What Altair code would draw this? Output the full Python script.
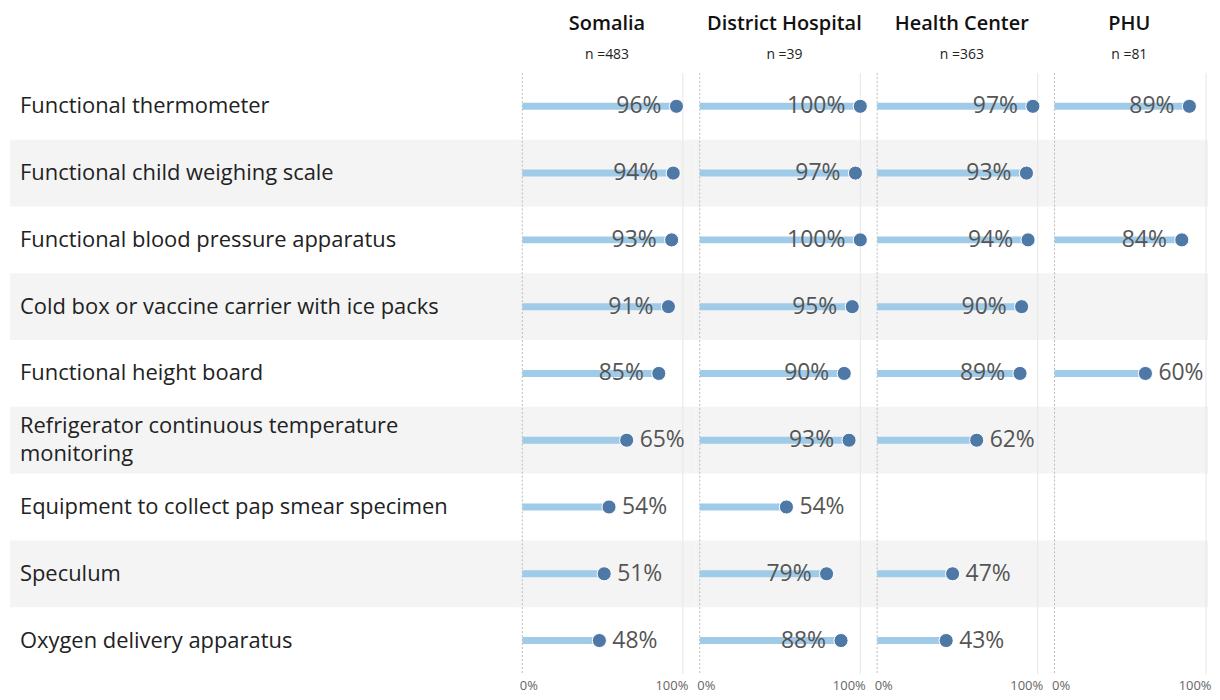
import altair as alt
import pandas as pd

items = [
    "Functional thermometer",
    "Functional child weighing scale",
    "Functional blood pressure apparatus",
    "Cold box or vaccine carrier with ice packs",
    "Functional height board",
    "Refrigerator continuous temperature\nmonitoring",
    "Equipment to collect pap smear specimen",
    "Speculum",
    "Oxygen delivery apparatus",
]
groups = ["Somalia", "District Hospital", "Health Center", "PHU"]
group_n = [483, 39, 363, 81]
somalia = [96, 94, 93, 91, 85, 65, 54, 51, 48]
district = [100, 97, 100, 95, 90, 93, 54, 79, 88]
health = [97, 93, 94, 90, 89, 62, None, 47, 43]
phu = [89, None, 84, None, 60, None, None, None, None]
series = [somalia, district, health, phu]

FONT = "Open Sans"
ROW_H = 67
PLOT_H = ROW_H * len(items)
LABEL_W = 510
PANEL_W = [178, 178, 178, 158]
X_DOMAINS = [[-2.5, 108], [-2.5, 108], [-2.5, 108], [-2.63, 101.3]]
STRIPE = "#f4f4f4"

stripe_df = pd.DataFrame({
    "item": items,
    "shade": [i % 2 == 1 for i in range(len(items))],
})
stripe_df = stripe_df[stripe_df["shade"]]

yenc = alt.Y("item:N", sort=items, scale=alt.Scale(domain=items, paddingInner=0, paddingOuter=0), axis=None)


def stripes(width):
    return alt.Chart(stripe_df).mark_rect(color=STRIPE).encode(
        y=yenc, x=alt.value(0), x2=alt.value(width)
    )


def make_title(text, sub):
    return alt.Title(text=text, subtitle=sub, anchor="middle", fontSize=20,
                     fontWeight=600, subtitleFontSize=14, subtitlePadding=15,
                     offset=10, font=FONT, subtitleFont=FONT, color="#111",
                     subtitleColor="#222")


# Label panel
label_df = pd.DataFrame({"item": items})
label_df["multi"] = label_df["item"].str.contains("\n")
label_base = alt.Chart(label_df)
single_labels = label_base.transform_filter("!datum.multi").mark_text(
    align="left", baseline="middle", font=FONT, fontSize=22, color="#222",
).encode(y=yenc, x=alt.value(10), text="item:N")
multi_labels = label_base.transform_filter("datum.multi").mark_text(
    align="left", baseline="middle", font=FONT, fontSize=22, color="#222",
    lineBreak="\n", lineHeight=28, dy=-14,
).encode(y=yenc, x=alt.value(10), text="item:N")
label_panel = alt.layer(stripes(LABEL_W), single_labels, multi_labels).properties(
    width=LABEL_W, height=PLOT_H, title=make_title(" ", " ")
)

panels = []
for g, n, vals, w, dom in zip(groups, group_n, series, PANEL_W, X_DOMAINS):
    rows = [(it, v) for it, v in zip(items, vals) if v is not None]
    df = pd.DataFrame(rows, columns=["item", "value"])
    df["left"] = df["value"] >= 70
    df["label"] = df["value"].astype(int).astype(str) + "%"
    xscale = alt.Scale(domain=dom, nice=False, zero=False)
    xenc_axis = alt.X(
        "value:Q", scale=xscale,
        axis=alt.Axis(
            values=[0, 100], labelExpr="datum.value + '%'", title=None,
            grid=False, domain=False, ticks=False, labelFontSize=13,
            labelColor="#666", labelPadding=6, labelFont=FONT,
            labelAlign=alt.ExprRef(expr="datum.value == 0 ? 'left' : 'right'"),
            labelOffset=alt.ExprRef(expr="datum.value == 0 ? -3 : 5"),
        ),
    )
    grid_df = pd.DataFrame({"pos": [0, 100], "kind": ["zero", "full"]})
    zero_rule = alt.Chart(grid_df[grid_df["kind"] == "zero"]).mark_rule(
        color="#bbbbbb", strokeDash=[2, 2], strokeWidth=1
    ).encode(x=alt.X("pos:Q", scale=xscale))
    full_rule = alt.Chart(grid_df[grid_df["kind"] == "full"]).mark_rule(
        color="#e6e6e6", strokeWidth=1
    ).encode(x=alt.X("pos:Q", scale=xscale))
    base = alt.Chart(df)
    bars = base.mark_rule(color="#a0cbe8", strokeWidth=7, strokeCap="butt").encode(
        x=xenc_axis, x2=alt.datum(0), y=yenc
    )
    dots = base.mark_circle(size=200, color="#4e79a7", opacity=1, stroke="white", strokeWidth=1).encode(
        x=alt.X("value:Q", scale=xscale), y=yenc
    )
    txt_l = base.transform_filter("datum.left").mark_text(
        align="right", baseline="middle", dx=-15, font=FONT, fontSize=23, color="#555"
    ).encode(x=alt.X("value:Q", scale=xscale), y=yenc, text="label:N")
    txt_r = base.transform_filter("!datum.left").mark_text(
        align="left", baseline="middle", dx=13, font=FONT, fontSize=23, color="#555"
    ).encode(x=alt.X("value:Q", scale=xscale), y=yenc, text="label:N")
    panel = alt.layer(stripes(w), zero_rule, full_rule, bars, dots, txt_l, txt_r).properties(
        width=w, height=PLOT_H, title=make_title(g, f"n ={n}"),
    )
    panels.append(panel)

chart = alt.hconcat(label_panel, *panels, spacing=0, bounds="flush").configure(
    padding={"left": 2, "top": 4, "right": 0, "bottom": 6},
    view=alt.ViewConfig(stroke=None),
)

chart.save("out.html", embed_options={"renderer": "svg", "actions": False})
